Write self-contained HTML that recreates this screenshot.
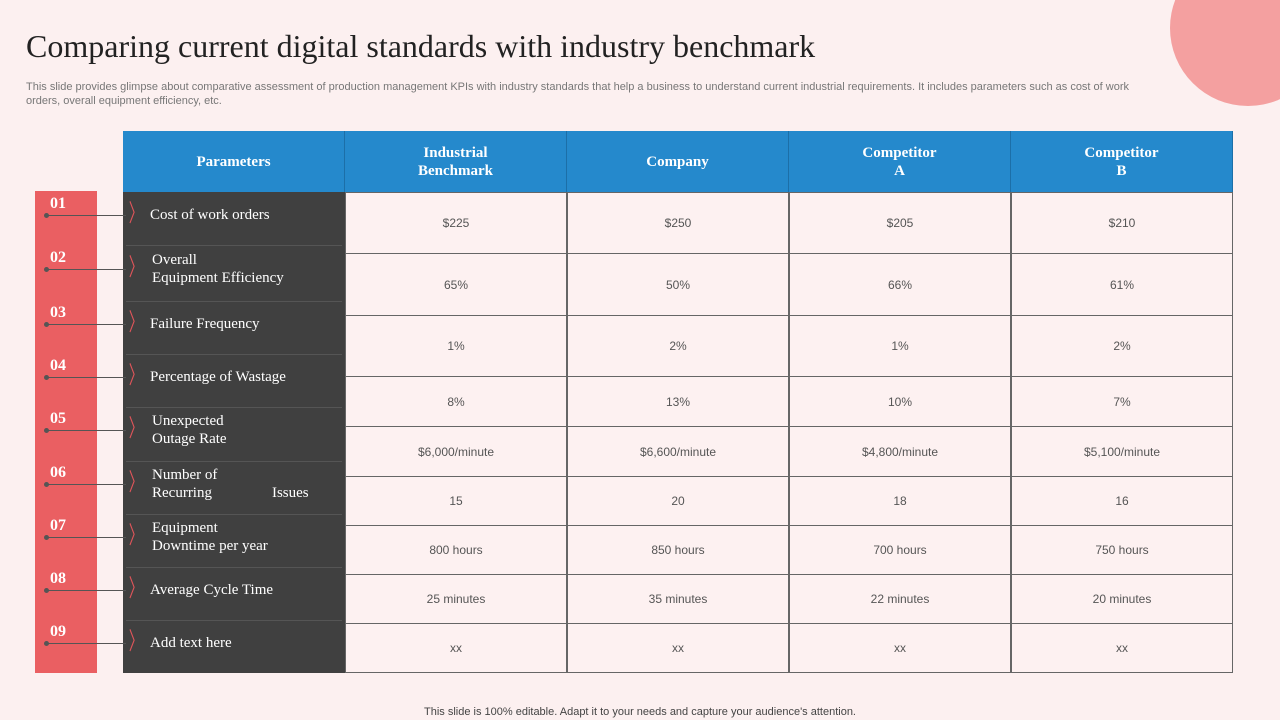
<!DOCTYPE html>
<html><head><meta charset="utf-8"><style>
*{margin:0;padding:0;box-sizing:border-box}
body{width:1280px;height:720px;background:#fcf0f0;position:relative;overflow:hidden;font-family:"Liberation Sans",sans-serif}
.abs{position:absolute}
.serif{font-family:"Liberation Serif",serif}
.hd{color:#fff;font-weight:bold;font-size:15px;display:flex;align-items:center;justify-content:center;text-align:center;line-height:18px}
.cell{display:flex;align-items:center;justify-content:center;font-size:12px;color:#555}
.lab{color:#fff;font-size:15px;line-height:18px;display:flex;align-items:center}
.num{color:#fff;font-weight:bold;font-size:16px}
</style></head><body>
<div class="abs" style="left:1170px;top:-50px;width:156px;height:156px;border-radius:50%;background:#f4a0a0"></div>
<div class="abs serif" style="left:26px;top:28px;font-size:32px;color:#222">Comparing current digital standards with industry benchmark</div>
<div class="abs" style="left:26px;top:80px;width:1120px;font-size:11px;line-height:14px;color:#777">This slide provides glimpse about comparative assessment of production management KPIs with industry standards that help a business to understand current industrial requirements. It includes parameters such as cost of work orders, overall equipment efficiency, etc.</div>
<div class="abs" style="left:35px;top:191px;width:62px;height:482px;background:#ea5f62"></div>
<div class="abs" style="left:123px;top:192px;width:222px;height:481px;background:#404040"></div>
<div class="abs" style="left:345px;top:192px;width:888px;height:481px;background:#fdf1f1;border:1px solid #555"></div>
<div id="t"></div>
<div class="abs" style="left:0;width:1280px;top:706px;text-align:center;font-size:11px;color:#444">This slide is 100% editable. Adapt it to your needs and capture your audience's attention.</div>
<script>
const headers=["Parameters","Industrial<br>Benchmark","Company","Competitor<br>A","Competitor<br>B"];
const params=["Cost of work orders","Overall<br>Equipment Efficiency","Failure Frequency","Percentage of Wastage","Unexpected<br>Outage Rate","Number of<br>Recurring&nbsp;&nbsp;&nbsp;&nbsp;&nbsp;&nbsp;&nbsp;&nbsp;&nbsp;&nbsp;&nbsp;&nbsp;&nbsp;&nbsp;&nbsp;&nbsp;Issues","Equipment<br>Downtime per year","Average Cycle Time","Add text here"];
const industrial=["$225","65%","1%","8%","$6,000/minute","15","800 hours","25 minutes","xx"];
const company=["$250","50%","2%","13%","$6,600/minute","20","850 hours","35 minutes","xx"];
const compA=["$205","66%","1%","10%","$4,800/minute","18","700 hours","22 minutes","xx"];
const compB=["$210","61%","1%","7%","$5,100/minute","16","750 hours","20 minutes","xx"].map((v,i)=>i==2?"2%":v);
const t=document.getElementById('t');
function mk(cls,style,html,name){const d=document.createElement('div');d.className='abs '+cls;d.style.cssText=style;d.innerHTML=html;


t.appendChild(d);return d;}
const colX=[123,345,567,789,1011],colW=222;
headers.forEach((h,i)=>{mk('hd serif',`left:${colX[i]}px;top:131px;width:${colW}px;height:61px;background:#2589cc;border-right:1px solid #1c6fa8`,h,'header-'+i);});
const rt=[192,254,316,377,427,477,526,575,624,673];
const lt=[192,245,301,354,407,461,514,567,620,673];
const cols=[industrial,company,compA,compB];
for(let r=0;r<9;r++){
 cols.forEach((c,j)=>{mk('cell',`left:${colX[j+1]}px;top:${rt[r]}px;width:${colW}px;height:${rt[r+1]-rt[r]}px;border:1px solid #666;border-top:${r?0:1}px solid #666`,c[r],'cell-r'+r+'-c'+j);});
 const h=lt[r+1]-lt[r];
 mk('lab serif',`left:150px;top:${lt[r]}px;width:185px;height:${h-8}px;padding-left:${params[r].includes('<br>')?2:0}px`,params[r],'param-'+r);
 if(r) mk('',`left:126px;top:${lt[r]}px;width:216px;height:1px;background:#555`,'','param-divider-'+r);
 mk('num serif',`left:50px;top:${lt[r]+h/2-24}px`,String(r+1).padStart(2,'0'),'row-number-'+r);
 mk('',`left:46px;top:${lt[r]+h/2-4}px;width:80px;height:1px;background:#555`,'','connector-line-'+r);
 mk('',`left:44px;top:${lt[r]+h/2-6}px;width:5px;height:5px;border-radius:50%;background:#555`,'','connector-dot-'+r);
 mk('',`left:124px;top:${lt[r]+h/2-26}px;font-size:24px;color:#e0555a;font-family:'DejaVu Sans';transform:scaleX(.6)`,'〉','chevron-'+r);
}
</script>
</body></html>
